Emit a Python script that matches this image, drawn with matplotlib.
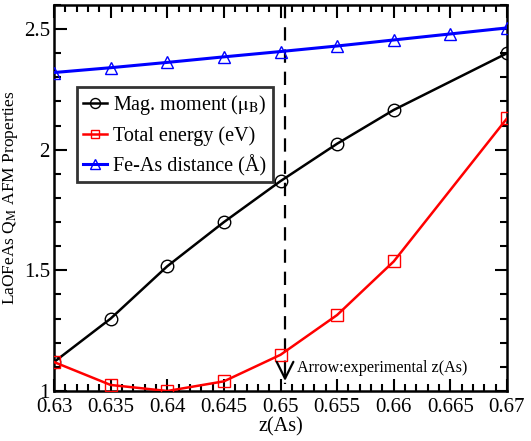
import matplotlib
matplotlib.use("Agg")
import matplotlib.pyplot as plt
from matplotlib.ticker import MultipleLocator, FixedLocator

plt.rcParams['font.family'] = ['Liberation Serif', 'DejaVu Serif']
plt.rcParams['mathtext.fontset'] = 'stix'

z_mag = [0.63, 0.635, 0.64, 0.645, 0.65, 0.655, 0.66, 0.67]
mag_moment = [1.12, 1.30, 1.517, 1.70, 1.87, 2.025, 2.165, 2.40]

z_energy = [0.63, 0.635, 0.64, 0.645, 0.65, 0.655, 0.66, 0.67]
total_energy = [1.12, 1.025, 1.0, 1.04, 1.15, 1.315, 1.537, 2.13]

z_feas = [0.63, 0.635, 0.64, 0.645, 0.65, 0.655, 0.66, 0.665, 0.67]
feas_dist = [2.32, 2.34, 2.362, 2.385, 2.407, 2.43, 2.455, 2.48, 2.505]

x_ticks = [0.63, 0.635, 0.64, 0.645, 0.65, 0.655, 0.66, 0.665, 0.67]
x_labels = ["0.63", "0.635", "0.64", "0.645", "0.65", "0.655", "0.66", "0.665", "0.67"]
y_ticks = [1.0, 1.5, 2.0, 2.5]
y_labels = ["1", "1.5", "2", "2.5"]
z_exp = 0.6504

fig = plt.figure(figsize=(5.31, 4.41), dpi=100)
ax = fig.add_axes([0.1017, 0.1134, 0.8531, 0.8753])

ax.plot(z_mag, mag_moment, color='black', lw=1.8, marker='o', ms=9,
        mfc='none', mec='black', mew=1.0, label=r'Mag. moment ($\mathrm{\mu_B}$)', zorder=3)
ax.plot(z_energy, total_energy, color='red', lw=1.8, marker='s', ms=8,
        mfc='none', mec='red', mew=1.0, label='Total energy (eV)', zorder=3)
ax.plot(z_feas, feas_dist, color='blue', lw=2.2, marker='^', ms=9,
        mfc='none', mec='blue', mew=1.0, label='Fe-As distance (Å)', zorder=3)

# dashed vertical line with open arrow head
ax.plot([z_exp, z_exp], [2.6, 1.03], color='black', lw=1.6, ls=(0, (6, 4)), zorder=2)
ax.annotate('', xy=(z_exp, 1.03), xytext=(z_exp, 1.08),
            arrowprops=dict(arrowstyle='->', color='black', lw=1.6,
                            mutation_scale=30))
ax.text(0.6515, 1.095, 'Arrow:experimental z(As)', fontsize=11.6, va='center', ha='left')

ax.set_xlim(0.63, 0.67)
ax.set_ylim(1.0, 2.6)
ax.xaxis.set_major_locator(FixedLocator(x_ticks))
ax.set_xticklabels(x_labels)
ax.yaxis.set_major_locator(FixedLocator(y_ticks))
ax.set_yticklabels(y_labels)
ax.xaxis.set_minor_locator(MultipleLocator(0.001))
ax.yaxis.set_minor_locator(MultipleLocator(0.1))
ax.tick_params(which='both', direction='in', top=True, right=True, width=1.5)
ax.tick_params(which='major', length=9, labelsize=15)
ax.tick_params(axis='x', which='major', pad=5)
ax.tick_params(axis='y', which='major', pad=3)
ax.tick_params(which='minor', length=5)
for s in ax.spines.values():
    s.set_linewidth(1.8)

ax.set_xlabel('z(As)', fontsize=14.5, labelpad=0)
ax.set_ylabel(r'LaOFeAs Q$_{\mathrm{M}}$ AFM Properties', fontsize=12.5)
ax.yaxis.set_label_coords(-0.075, 0.5)

leg = ax.legend(loc='upper left', bbox_to_anchor=(0.0508, 0.7876), fontsize=14.5,
                frameon=True, fancybox=False, edgecolor='black', handlelength=1.2,
                handletextpad=0.3, borderpad=0.3, labelspacing=0.45, borderaxespad=0,
                markerscale=0.8)
leg.get_frame().set_linewidth(2.0)

fig.savefig('out.png', dpi=100)
